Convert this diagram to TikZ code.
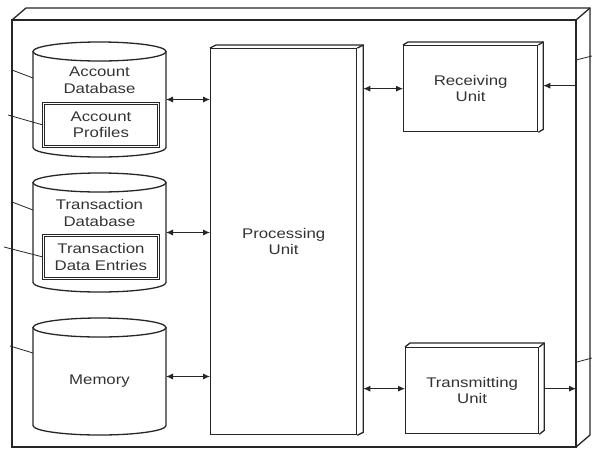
\documentclass[tikz,border=0pt]{standalone}
\usepackage{fontspec}
\setmainfont{Liberation Sans}[FakeStretch=1.2]
\usetikzlibrary{arrows.meta,calc}
\begin{document}
\begin{tikzpicture}[x=1pt,y=1pt,
  ln/.style={line width=1.3pt,draw=black!85},
  thin/.style={line width=0.8pt,draw=black!85},
  lab/.style={font=\fontsize{14}{16.5}\selectfont,align=center,text=black!80,inner sep=0pt},
  frontbox/.style={draw=black!85,line width=1.3pt,fill=white,anchor=north west,inner sep=0pt},
  ghost/.style={anchor=north west,inner sep=0pt,outer sep=0pt},
  inbox/.style={draw=black!85,line width=0.9pt,double=white,double distance=1.2pt,anchor=north west,inner sep=0pt,
    minimum width=115pt,minimum height=43pt,font=\fontsize{14}{16.5}\selectfont,align=center,text=black!80},
  biarr/.style={thin,{Latex[length=7pt,width=6pt]}-{Latex[length=7pt,width=6pt]}},
  onearr/.style={thin,-{Latex[length=7pt,width=6pt]}}
]
\useasboundingbox (0,0) rectangle (592,-448);

% outer device
\node[ghost,minimum width=564pt,minimum height=427pt] (dev) at (12,-20) {};
\draw[ln] (dev.north west) rectangle (dev.south east);
\draw[ln] (dev.north west) -- ++(14,12) -- ($(dev.north east)+(14,12)$) -- ($(dev.south east)+(14,12)$) -- (dev.south east);
\draw[ln] (dev.north east) -- ++(14,12);

% cylinders
\newcommand\cylshape[2]{%
  \draw[ln] ($(#1.north west)+(0,-#2)$) -- ($(#1.south west)+(0,#2)$)
     arc[start angle=180,end angle=360,x radius=66.5,y radius=#2]
     -- ($(#1.north east)+(0,-#2)$);
  \draw[ln] ($(#1.north)+(0,-#2)$) ellipse[x radius=66.5,y radius=#2];}

\node[ghost,minimum width=133pt,minimum height=115pt] (acc) at (33,-42) {};
\cylshape{acc}{9.5}
\node[lab] (acclab) at (99.5,-80) {Account\\Database};
\node[inbox] (acp) at (43,-103) {Account\\Profiles};

\node[ghost,minimum width=133pt,minimum height=119pt] (tdb) at (33,-173) {};
\cylshape{tdb}{9.5}
\node[lab] (tdblab) at (99.5,-213) {Transaction\\Database};
\node[inbox] (tde) at (43,-235) {Transaction\\Data Entries};

\node[ghost,minimum width=133pt,minimum height=117pt] (mem) at (33,-318) {};
\cylshape{mem}{9.5}
\node[lab] (memlab) at (99.5,-381) {Memory};

% processing unit
\node[frontbox,minimum width=146pt,minimum height=386pt,lab] (pu) at (210,-48) {Processing\\Unit};
\draw[ln] (pu.north west) -- ++(6,3) -- ($(pu.north east)+(6,3)$) -- ($(pu.south east)+(6,3)$) -- (pu.south east);
\draw[ln] (pu.north east) -- ++(6,3);

% receiving unit
\node[frontbox,minimum width=134pt,minimum height=86pt,lab] (rec) at (403,-45) {Receiving\\Unit};
\draw[ln] (rec.north west) -- ++(5,3) -- ($(rec.north east)+(5,3)$) -- ($(rec.south east)+(5,3)$) -- (rec.south east);
\draw[ln] (rec.north east) -- ++(5,3);

% transmitting unit
\node[frontbox,minimum width=133pt,minimum height=86pt,lab] (tu) at (405,-347) {Transmitting\\Unit};
\draw[ln] (tu.north west) -- ++(5,4) -- ($(tu.north east)+(5,4)$) -- ($(tu.south east)+(5,4)$) -- (tu.south east);
\draw[ln] (tu.north east) -- ++(5,4);

% connectors
\draw[biarr] (acc.east) -- (acc.east -| pu.west);
\draw[biarr] (tdb.east) -- (tdb.east -| pu.west);
\draw[biarr] (mem.east) -- (mem.east -| pu.west);
\coordinate (pub) at ($(pu.east)+(6,0)$);
\draw[biarr] (rec.west -| pub) -- (rec.west);
\draw[biarr] ($(tu.west -| pub)+(0,2)$) -- ($(tu.west)+(0,2)$);
\coordinate (recb) at ($(rec.east)+(5,3)$);
\draw[onearr] (recb -| dev.east) -- (recb);
\coordinate (tub) at ($(tu.east)+(5,2)$);
\draw[onearr] (tub) -- (tub -| dev.east);

% leader lines
\draw[thin] (12,-70) -- (33,-78);
\draw[thin] (8,-115) -- (43,-125);
\draw[thin] (12,-202) -- (33,-210);
\draw[thin] (4,-247) -- (43,-257);
\draw[thin] (10,-346) -- (33,-353);
\draw[thin] (576,-60) -- (592,-56);
\draw[thin] (577,-362) -- (592,-358);
\end{tikzpicture}
\end{document}
